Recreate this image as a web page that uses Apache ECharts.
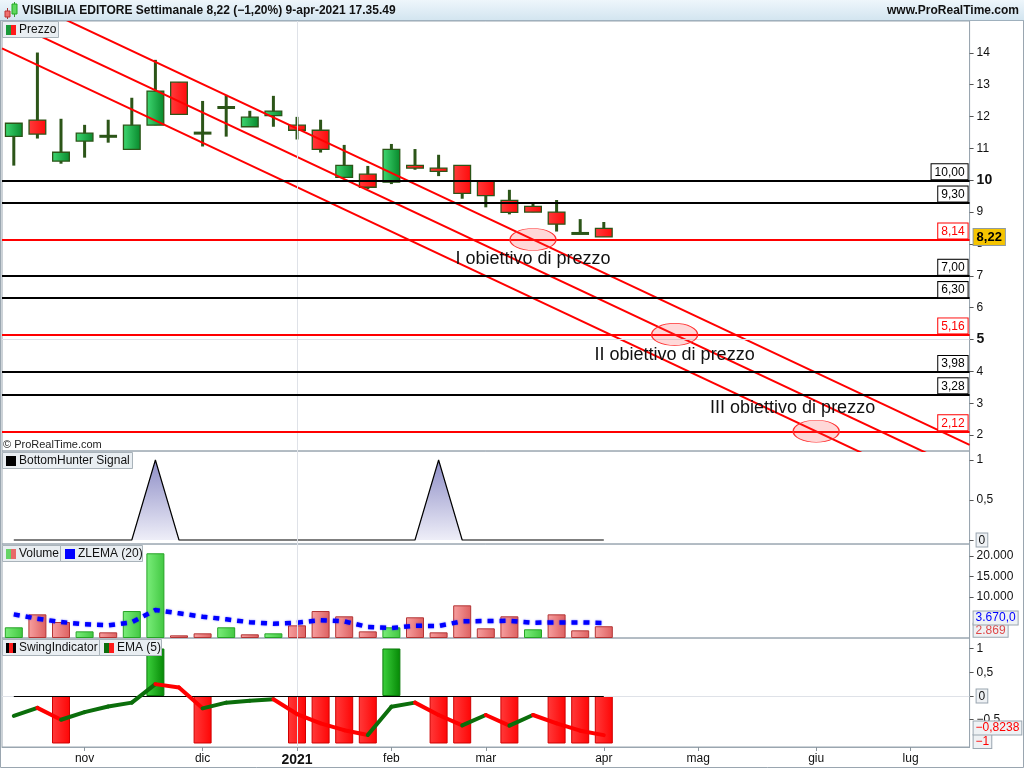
<!DOCTYPE html>
<html><head><meta charset="utf-8">
<script src="https://cdn.jsdelivr.net/npm/echarts@6/dist/echarts.min.js"></script>
<style>html,body{margin:0;padding:0;background:#fff}#c{width:1024px;height:768px}</style>
</head><body><div id="c"></div>
<script>
// ---------- DATA ----------
const weekDates = ['2020-10-12','2020-10-19','2020-10-26','2020-11-02','2020-11-09','2020-11-16','2020-11-23','2020-11-30','2020-12-07','2020-12-14','2020-12-21','2020-12-28','2021-01-04','2021-01-11','2021-01-18','2021-01-25','2021-02-01','2021-02-08','2021-02-15','2021-02-22','2021-03-01','2021-03-08','2021-03-15','2021-03-22','2021-03-29','2021-04-05','2021-04-12','2021-04-19','2021-04-26','2021-05-03','2021-05-10','2021-05-17','2021-05-24','2021-05-31','2021-06-07','2021-06-14','2021-06-21','2021-06-28','2021-07-05','2021-07-12','2021-07-19'];
const monthTickIndex = [3, 8, 12, 16, 20, 25, 29, 34, 38];
const monthTickText = ['nov', 'dic', '2021', 'feb', 'mar', 'apr', 'mag', 'giu', 'lug'];

const opens  = [11.38, 11.89, 10.60, 11.23, 11.36, 10.97, 11.73, 13.08, 11.47, 12.28, 11.68, 12.03, 11.73, 11.57, 10.09, 10.19, 9.94, 10.47, 10.38, 10.47, 9.97, 9.37, 9.18, 9.00, 8.34, 8.49];
const highs  = [11.79, 14.01, 11.93, 11.74, 11.90, 12.59, 13.78, 13.08, 12.49, 12.68, 12.18, 12.65, 11.99, 11.90, 11.11, 10.45, 11.14, 10.98, 10.80, 10.47, 9.97, 9.70, 9.31, 9.38, 8.78, 8.69];
const lows   = [10.46, 11.31, 10.52, 10.71, 11.18, 10.97, 11.73, 12.07, 11.06, 11.37, 11.68, 11.68, 11.28, 10.87, 10.09, 9.72, 9.88, 10.33, 10.13, 9.42, 9.15, 8.93, 9.00, 8.39, 8.32, 8.22];
const closes = [11.79, 11.45, 10.88, 11.48, 11.40, 11.73, 12.80, 12.07, 11.49, 12.29, 11.98, 12.17, 11.57, 10.97, 10.47, 9.78, 10.97, 10.38, 10.28, 9.59, 9.52, 8.99, 9.00, 8.62, 8.32, 8.22];

const volumes = [2610, 5770, 3900, 1620, 1380, 6580, 20660, 650, 1140, 2610, 900, 1140, 3090, 6580, 5290, 1620, 2610, 5050, 1380, 7970, 2360, 5290, 2120, 5770, 1870, 2869];
const zlema20 = [5770, 4710, 3900, 3330, 3090, 3820, 6830, 6020, 5200, 4550, 3860, 3490, 3730, 4350, 4070, 2680, 2440, 2970, 2930, 4070, 4150, 4190, 3730, 3810, 3810, 3670];

const bottomHunter = [0,0,0,0,0,0,1,0,0,0,0,0,0,0,0,0,0,0,1,0,0,0,0,0,0,0];
const swingIndicator = [0,0,-1,0,0,0,1,0,-1,0,0,0,-1,-1,-1,-1,1,0,-1,-1,0,-1,0,-1,-1,-1];
const ema5 = [-0.42, -0.25, -0.50, -0.34, -0.22, -0.14, 0.25, 0.18, -0.26, -0.14, -0.10, -0.07, -0.38, -0.575, -0.72, -0.82, -0.225, -0.14, -0.40, -0.62, -0.40, -0.625, -0.40, -0.575, -0.73, -0.8238];

const blackLevels = [10.00, 9.30, 7.00, 6.30, 3.98, 3.28];
const redLevels = [8.14, 5.16, 2.12];
const lastPrice = 8.22;

const trendLineA = [[-0.5, 15.98], [40.5, 1.69]];
const trendLineB = [[-0.5, 15.09], [40.5, 0.80]];
const trendLineC = [[-0.5, 14.14], [40.5, -0.15]];

const targetPoints = [[22, 8.14], [28, 5.16], [34, 2.12]];
const targetTexts = ['I obiettivo di prezzo', 'II obiettivo di prezzo', 'III obiettivo di prezzo'];
const targetTextPos = [[22, 7.53], [28, 4.51], [33, 2.85]];

const priceTicks = [2,3,4,5,6,7,8,9,10,11,12,13,14];
const bhTicks = [0, 0.5, 1];
const volTicks = [10000, 15000, 20000];
const swingTicks = [-0.5, 0, 0.5, 1];

// ---------- HELPERS ----------
const FONT = '"Liberation Sans", Arial, sans-serif';
const AX = '#9aa6b0';
const WICK = '#2c5518';
const CLEAR = 'rgba(0,0,0,0)';
const hgrad = (a, b) => ({type:'linear', x:0, y:0, x2:1, y2:0, colorStops:[{offset:0,color:a},{offset:1,color:b}]});
const isLabelIdx = i => monthTickIndex.indexOf(i) >= 0;
const labelFor = i => { const k = monthTickIndex.indexOf(i); if (k < 0) return ''; return monthTickText[k] === '2021' ? '{b|2021}' : monthTickText[k]; };
const comma = (v, d) => v.toFixed(d).replace('.', ',');
const thousands = v => String(Math.round(v)).replace(/\B(?=(\d{3})+(?!\d))/g, '.');

function catX(gi, show) {
  return {type:'category', gridIndex:gi, data:weekDates, boundaryGap:true,
    axisLine:{show:show, onZero:false, lineStyle:{color:AX}},
    axisTick:{show:show, interval:(i)=>isLabelIdx(i), alignWithLabel:true, length:4, lineStyle:{color:'#8a949c'}},
    axisLabel:{show:show, interval:(i)=>isLabelIdx(i), formatter:(v,i)=>labelFor(i), color:'#111', fontSize:12, fontFamily:FONT, margin:6,
      rich:{b:{fontWeight:'bold', fontSize:14, color:'#111', fontFamily:FONT}}},
    splitLine:{show:false}};
}
const boxRich = {box:{backgroundColor:'#eef1f4', borderColor:AX, borderWidth:1, padding:[1,2,0,2], color:'#111', fontSize:12, fontFamily:FONT},
                 b:{fontWeight:'bold', fontSize:14, color:'#111', fontFamily:FONT}};
function yAx(gi, min, max, ticks, fmt) {
  return {type:'value', gridIndex:gi, position:'right', min:min, max:max,
    axisLine:{show:true, onZero:false, lineStyle:{color:AX}},
    axisTick:{show:true, length:4, lineStyle:{color:'#555'}, customValues:ticks},
    axisLabel:{show:true, customValues:ticks, formatter:fmt, color:'#111', fontSize:12, fontFamily:FONT, margin:7, rich:boxRich},
    splitLine:{show:false}};
}

const G = {left:2, right:54.4};
const levelLabel = (color) => ({show:true, position:'insideEndTop', distance:[2,1], backgroundColor:'#fff', borderColor:color, borderWidth:1,
  padding:[1,3,0,3], color:color, fontSize:12, fontFamily:FONT, lineHeight:14});
const valueTag = (text, color, bg, offY, bold) => ({show:true, position:'end', distance:4, offset:[0, offY], formatter:text,
  color:color, backgroundColor:bg, borderColor: bold ? '#8c99a5' : AX, borderWidth:1, padding: bold ? [2,3,1,3] : [1,2,0,2],
  fontSize: bold ? 13 : 12, fontWeight: bold ? 'bold' : 'normal', fontFamily:FONT});

const levelMarks = [];
blackLevels.forEach(v => levelMarks.push({yAxis:v, lineStyle:{color:'#000', width:2, type:'solid'}, label:Object.assign(levelLabel('#000'), {formatter:comma(v,2)})}));
redLevels.forEach(v => levelMarks.push({yAxis:v, lineStyle:{color:'#ff0000', width:2, type:'solid'}, label:Object.assign(levelLabel('#ff0000'), {formatter:comma(v,2)})}));
levelMarks.push({yAxis:lastPrice, lineStyle:{color:CLEAR, width:1}, label:valueTag(comma(lastPrice,2), '#000', '#f5c400', 0, true)});

const ellipsePath = 'path://M0,10 A20,10 0 1 1 40,10 A20,10 0 1 1 0,10 Z';
const markPts = targetPoints.map(p => ({coord:p, symbol:ellipsePath, symbolSize:[46,22],
  itemStyle:{color:'rgba(255,60,60,0.2)', borderColor:'#ff3030', borderWidth:1}, label:{show:false}}))
  .concat(targetTextPos.map((p, k) => ({coord:p, symbol:'rect', symbolSize:[1,1], itemStyle:{color:CLEAR},
    label:{show:true, position:'inside', formatter:targetTexts[k], color:'#111', fontSize:18, fontFamily:FONT}})));

const trendSeries = (name, data, extra) => Object.assign({name:name, type:'line', xAxisIndex:4, yAxisIndex:0, data:data, symbol:'none',
  lineStyle:{color:'#ff0000', width:2}, itemStyle:{color:'#ff0000'}, z:4, silent:true, animation:false, clip:true}, extra || {});

const vline = (axisVal) => ({xAxis:axisVal, lineStyle:{color:'#dfe2e8', width:1, type:'solid'}, label:{show:false}});

const option = {
  animation:false,
  textStyle:{fontFamily:FONT},
  grid:[
    {left:G.left, right:G.right, top:21, height:430, show:true, borderColor:AX, borderWidth:1, backgroundColor:'#fff'},
    {left:G.left, right:G.right, top:451, height:93, show:true, borderColor:AX, borderWidth:1},
    {left:G.left, right:G.right, top:544, height:94, show:true, borderColor:AX, borderWidth:1},
    {left:G.left, right:G.right, top:638, height:109, show:true, borderColor:AX, borderWidth:1}
  ],
  xAxis:[catX(0,false), catX(1,false), catX(2,false), catX(3,true),
    {type:'value', gridIndex:0, min:-0.5, max:40.5, show:false}],
  yAxis:[
    yAx(0, 1.5, 15, priceTicks, v => (v===10||v===5) ? '{b|'+v+'}' : String(v)),
    yAx(1, -0.05, 1.1125, bhTicks, v => v===0 ? '{box|0}' : comma(v, v%1 ? 1 : 0)),
    yAx(2, 0, 22927, volTicks, v => thousands(v)),
    yAx(3, -1.074, 1.221, swingTicks, v => v===0 ? '{box|0}' : (v<0 ? '\u2212' : '') + comma(Math.abs(v), v%1 ? 1 : 0))
  ],
  series:[
    {type:'line', xAxisIndex:4, yAxisIndex:0, data:[], z:1, silent:true,
      markLine:{symbol:['none','none'], silent:true, animation:false, data:[vline(12), {yAxis:5, lineStyle:{color:'#dfe2e8', width:1, type:'solid'}, label:{show:false}}]}},
    {name:'Prezzo', type:'custom', xAxisIndex:0, yAxisIndex:0, z:3,
      data: opens.map((o,i) => [i, o, closes[i], lows[i], highs[i]]),
      encode:{x:0, y:[1,2,3,4]},
      renderItem:(params, api) => {
        const i = api.value(0), o = api.value(1), c = api.value(2), lo = api.value(3), hi = api.value(4);
        const pO = api.coord([i,o]), pC = api.coord([i,c]), pL = api.coord([i,lo]), pH = api.coord([i,hi]);
        const w = api.size([1,0])[0] * 0.75;
        const x = pO[0];
        const top = Math.min(pO[1], pC[1]), bot = Math.max(pO[1], pC[1]);
        const ch = [{type:'line', shape:{x1:x, y1:pH[1], x2:x, y2:pL[1]}, style:{stroke:WICK, lineWidth:3}}];
        if (bot - top < 2) {
          ch.push({type:'rect', shape:{x:x-w/2, y:(top+bot)/2-1.5, width:w, height:3}, style:{fill:WICK}});
        } else {
          ch.push({type:'rect', shape:{x:x-w/2+0.5, y:top, width:w-1, height:bot-top},
            style:{fill: c>=o ? hgrad('#3fd872','#07882b') : hgrad('#ff3c3c','#ff0a0a'), stroke:WICK, lineWidth:1.3}});
        }
        return {type:'group', children:ch};
      }},
    trendSeries('trendA', trendLineA, {markPoint:{silent:true, animation:false, data:markPts, z:6}}),
    trendSeries('trendB', trendLineB, {markLine:{symbol:['none','none'], silent:true, animation:false, data:levelMarks}}),
    trendSeries('trendC', trendLineC),
    {name:'BottomHunter Signal', type:'line', xAxisIndex:1, yAxisIndex:1, data:bottomHunter, symbol:'none',
      lineStyle:{color:'#000', width:1.2}, itemStyle:{color:'#000'},
      areaStyle:{opacity:1, color:{type:'linear', x:0, y:0, x2:0, y2:1, colorStops:[{offset:0,color:'#8d8dc6'},{offset:1,color:'#eeeef8'}]}},
      markLine:{symbol:['none','none'], silent:true, animation:false, data:[vline(weekDates[12])]}},
    {name:'Volume', type:'bar', xAxisIndex:2, yAxisIndex:2, barWidth:18,
      data: volumes.map((v,i) => {
        const up = i === 0 ? closes[0] >= opens[0] : closes[i] >= closes[i-1];
        return {value:v, itemStyle: up ? {color:hgrad('#7bee7b','#41c741'), borderColor:'#27a327', borderWidth:1}
                                       : {color:hgrad('#f7a0a0','#dd6060'), borderColor:'#b33535', borderWidth:1}};
      }),
      markLine:{symbol:['none','none'], silent:true, animation:false, data:[vline(weekDates[12]),
        {yAxis:volumes[volumes.length-1], lineStyle:{color:CLEAR, width:1}, label:valueTag(thousands(volumes[volumes.length-1]), '#e04848', '#eef1f4', 4, false)}]}},
    {name:'ZLEMA (20)', type:'line', xAxisIndex:2, yAxisIndex:2, data:zlema20, symbol:'none', z:4,
      lineStyle:{color:'#0000ff', width:4.5, type:[6,6], shadowBlur:2, shadowColor:'rgba(0,0,255,0.5)'}, itemStyle:{color:'#0000ff'},
      markLine:{symbol:['none','none'], silent:true, animation:false, data:[
        {yAxis:zlema20[zlema20.length-1], lineStyle:{color:CLEAR, width:1}, label:valueTag(thousands(zlema20[zlema20.length-1]) + ',0', '#0000ff', '#eef1f4', -5, false)}]}},
    {name:'SwingIndicator', type:'bar', xAxisIndex:3, yAxisIndex:3, barWidth:18,
      data: swingIndicator.map(v => v === 0 ? null : {value:v, itemStyle: v > 0 ? {color:hgrad('#3dd23d','#058805'), borderColor:'#0a7a0a', borderWidth:1}
                                                                              : {color:hgrad('#ff3a3a','#ff0505'), borderColor:'#d00000', borderWidth:1}}),
      markLine:{symbol:['none','none'], silent:true, animation:false, data:[
        vline(weekDates[12]),
        {yAxis:0, lineStyle:{color:'#dfe2e8', width:1, type:'solid'}, label:{show:false}},
        [{coord:[weekDates[0], 0], lineStyle:{color:'#000', width:1.2, type:'solid'}, label:{show:false}}, {coord:[weekDates[25], 0]}],
        {yAxis:-1, lineStyle:{color:CLEAR, width:1}, label:valueTag('\u22121', '#ff0000', '#eef1f4', -2, false)}
      ]}},
    {name:'EMA (5)', type:'custom', xAxisIndex:3, yAxisIndex:3, z:5,
      data: ema5.map((v,i) => [i, v, i > 0 ? ema5[i-1] : v]),
      encode:{x:0, y:[1,2]},
      renderItem:(params, api) => {
        const i = api.value(0);
        if (i === 0) return null;
        const cur = api.value(1), prev = api.value(2);
        const p1 = api.coord([i-1, prev]), p2 = api.coord([i, cur]);
        return {type:'line', shape:{x1:p1[0], y1:p1[1], x2:p2[0], y2:p2[1]},
          style:{stroke: cur >= prev ? '#0b6e0b' : '#ff0000', lineWidth:4, lineCap:'round'}};
      },
      markLine:{symbol:['none','none'], silent:true, animation:false, data:[
        {yAxis:ema5[ema5.length-1], lineStyle:{color:CLEAR, width:1}, label:valueTag('\u2212' + comma(Math.abs(ema5[ema5.length-1]), 4), '#ff0000', '#eef1f4', -7, false)}]}}
  ],
  graphic:[
    {type:'rect', z:100, shape:{x:0, y:0, width:1024, height:20}, style:{fill:{type:'linear', x:0, y:0, x2:0, y2:1, colorStops:[{offset:0,color:'#eef6fb'},{offset:1,color:'#d3e5f0'}]}}},
    {type:'line', z:100, shape:{x1:0, y1:20.5, x2:1024, y2:20.5}, style:{stroke:'#9fb0bd', lineWidth:1}},
    {type:'line', z:101, shape:{x1:7.5, y1:8, x2:7.5, y2:19}, style:{stroke:'#a33', lineWidth:1}},
    {type:'rect', z:102, shape:{x:5, y:11, width:5, height:6}, style:{fill:'#f07070', stroke:'#b33', lineWidth:1}},
    {type:'line', z:101, shape:{x1:14.5, y1:2, x2:14.5, y2:17}, style:{stroke:'#393', lineWidth:1}},
    {type:'rect', z:102, shape:{x:12, y:4, width:5, height:10}, style:{fill:'#5fd85f', stroke:'#2a2', lineWidth:1}},
    {type:'text', z:102, x:22, y:10.5, style:{text:'VISIBILIA EDITORE Settimanale 8,22 (\u22121,20%) 9-apr-2021 17.35.49', font:'bold 12px "Liberation Sans", Arial, sans-serif', fill:'#111', textVerticalAlign:'middle', verticalAlign:'middle'}},
    {type:'text', z:102, x:1019, y:10.5, style:{text:'www.ProRealTime.com', font:'bold 12px "Liberation Sans", Arial, sans-serif', fill:'#111', textAlign:'right', align:'right', textVerticalAlign:'middle', verticalAlign:'middle'}},
    {type:'rect', z:100, shape:{x:2.5, y:21.5, width:56, height:16}, style:{fill:'#e9eef2', stroke:'#a9b3ba', lineWidth:1}},
    {type:'rect', z:101, shape:{x:6, y:25, width:5, height:10}, style:{fill:'#1a9a3a'}},
    {type:'rect', z:101, shape:{x:11, y:25, width:5, height:10}, style:{fill:'#ff1a1a'}},
    {type:'text', z:101, x:19, y:29.5, style:{text:'Prezzo', font:'12px "Liberation Sans", Arial, sans-serif', fill:'#111', textVerticalAlign:'middle', verticalAlign:'middle'}},
    {type:'text', z:101, x:3, y:445, style:{text:'\u00a9 ProRealTime.com', font:'11px "Liberation Sans", Arial, sans-serif', fill:'#222', textVerticalAlign:'middle', verticalAlign:'middle'}},
    {type:'rect', z:100, shape:{x:2.5, y:452.5, width:130, height:16}, style:{fill:'#e9eef2', stroke:'#a9b3ba', lineWidth:1}},
    {type:'rect', z:101, shape:{x:6, y:456, width:10, height:10}, style:{fill:'#000'}},
    {type:'text', z:101, x:19, y:460.5, style:{text:'BottomHunter Signal', font:'12px "Liberation Sans", Arial, sans-serif', fill:'#111', textVerticalAlign:'middle', verticalAlign:'middle'}},
    {type:'rect', z:100, shape:{x:2.5, y:545.5, width:58, height:16}, style:{fill:'#e9eef2', stroke:'#a9b3ba', lineWidth:1}},
    {type:'rect', z:101, shape:{x:6, y:549, width:5, height:10}, style:{fill:'#66d466'}},
    {type:'rect', z:101, shape:{x:11, y:549, width:5, height:10}, style:{fill:'#e86a6a'}},
    {type:'text', z:101, x:19, y:553.5, style:{text:'Volume', font:'12px "Liberation Sans", Arial, sans-serif', fill:'#111', textVerticalAlign:'middle', verticalAlign:'middle'}},
    {type:'rect', z:100, shape:{x:60.5, y:545.5, width:82, height:16}, style:{fill:'#e9eef2', stroke:'#a9b3ba', lineWidth:1}},
    {type:'rect', z:101, shape:{x:65, y:549, width:10, height:10}, style:{fill:'#0000ff'}},
    {type:'text', z:101, x:78, y:553.5, style:{text:'ZLEMA (20)', font:'12px "Liberation Sans", Arial, sans-serif', fill:'#111', textVerticalAlign:'middle', verticalAlign:'middle'}},
    {type:'rect', z:100, shape:{x:2.5, y:639.5, width:97, height:16}, style:{fill:'#e9eef2', stroke:'#a9b3ba', lineWidth:1}},
    {type:'rect', z:101, shape:{x:6, y:643, width:3, height:10}, style:{fill:'#000'}},
    {type:'rect', z:101, shape:{x:9, y:643, width:4, height:10}, style:{fill:'#ff1a1a'}},
    {type:'rect', z:101, shape:{x:13, y:643, width:3, height:10}, style:{fill:'#000'}},
    {type:'text', z:101, x:19, y:647.5, style:{text:'SwingIndicator', font:'12px "Liberation Sans", Arial, sans-serif', fill:'#111', textVerticalAlign:'middle', verticalAlign:'middle'}},
    {type:'rect', z:100, shape:{x:99.5, y:639.5, width:62, height:16}, style:{fill:'#e9eef2', stroke:'#a9b3ba', lineWidth:1}},
    {type:'rect', z:101, shape:{x:104, y:643, width:5, height:10}, style:{fill:'#0b6e0b'}},
    {type:'rect', z:101, shape:{x:109, y:643, width:5, height:10}, style:{fill:'#ff1a1a'}},
    {type:'text', z:101, x:117, y:647.5, style:{text:'EMA (5)', font:'12px "Liberation Sans", Arial, sans-serif', fill:'#111', textVerticalAlign:'middle', verticalAlign:'middle'}},
    {type:'rect', z:99, shape:{x:0.5, y:0.5, width:1023, height:767}, style:{fill:'none', stroke:'#9aa6b0', lineWidth:1}}
  ]
};

const chart = echarts.init(document.getElementById('c'), null, {renderer:'canvas', width:1024, height:768});
chart.setOption(option);
</script>
</body></html>
